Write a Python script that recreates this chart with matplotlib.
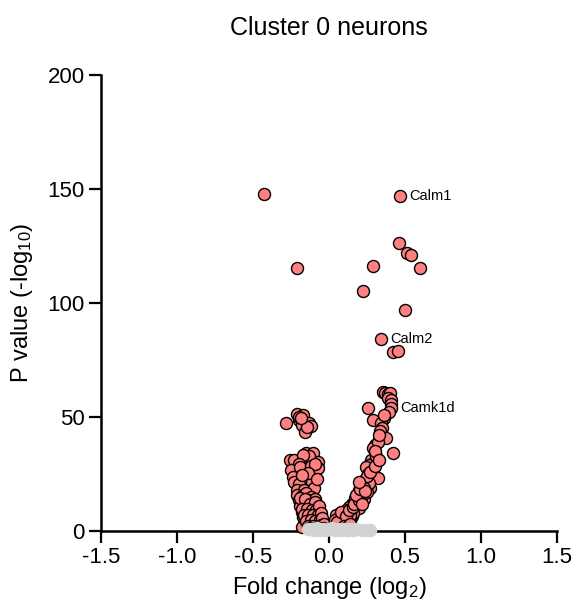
import matplotlib
matplotlib.use("Agg")
import matplotlib.pyplot as plt

plt.rcParams['font.family'] = ['Liberation Sans', 'DejaVu Sans']
plt.rcParams['mathtext.fontset'] = 'custom'
plt.rcParams['mathtext.rm'] = 'Liberation Sans'
plt.rcParams['mathtext.default'] = 'rm'

# significant genes: fold change (log2) and p value (-log10)
left_fc = [-0.426, -0.208, -0.283,
           -0.21, -0.17, -0.195, -0.13, -0.175, -0.12, -0.16, -0.145, -0.2, -0.185,
           -0.257, -0.228, -0.15, -0.107, -0.074, -0.13, -0.17, -0.2, -0.25, -0.19,
           -0.12, -0.07, -0.09, -0.24, -0.23, -0.16, -0.11, -0.2, -0.14, -0.21,
           -0.165, -0.1, -0.08, -0.18,
           -0.21, -0.18, -0.15, -0.12, -0.2, -0.17, -0.14, -0.11, -0.09, -0.19,
           -0.16, -0.13, -0.1, -0.08, -0.18, -0.15, -0.12, -0.09, -0.07, -0.17,
           -0.14, -0.11, -0.08, -0.06, -0.16, -0.13, -0.1, -0.07, -0.05, -0.04,
           -0.18, -0.12, -0.09,
           -0.19, -0.155, -0.125, -0.095, -0.175, -0.145, -0.115, -0.085, -0.065,
           -0.165, -0.135, -0.105, -0.075, -0.055, -0.15, -0.12, -0.09, -0.06,
           -0.045, -0.14, -0.105, -0.075, -0.05, -0.035, -0.13, -0.1, -0.065,
           -0.04, -0.03]
left_p = [147.7, 115.4, 47.2,
          51.3, 50.9, 48.7, 47.2, 46.5, 46.0, 43.6, 45.5, 50.0, 49.5,
          31.1, 31.1, 34.1, 34.1, 30.4, 32.8, 33.5, 29.5, 26.8, 28.0,
          28.5, 27.5, 29.5, 23.5, 21.6, 22.4, 21.6, 20.5, 25.5, 18.0,
          18.0, 19.0, 23.0, 24.5,
          16.0, 15.5, 16.5, 15.0, 13.5, 13.0, 13.5, 12.5, 14.0, 11.0,
          10.5, 11.0, 10.0, 11.5, 8.5, 8.0, 8.5, 7.5, 9.0, 6.0,
          5.5, 6.0, 5.0, 6.5, 3.5, 3.0, 3.5, 2.5, 4.0, 2.0,
          1.9, 1.5, 1.2,
          14.5, 14.0, 12.0, 12.8, 9.5, 9.8, 9.2, 9.0, 10.8,
          7.0, 7.2, 7.0, 6.8, 7.8, 4.5, 4.8, 4.2, 4.6,
          5.5, 2.2, 2.0, 1.8, 2.6, 3.0, 1.3, 1.0, 1.1,
          1.5, 1.0]

right_fc = [0.467, 0.463, 0.511, 0.539, 0.599, 0.289, 0.224, 0.498, 0.344, 0.419, 0.452,
            0.357, 0.37, 0.385, 0.4, 0.39, 0.405, 0.41, 0.259, 0.41, 0.395, 0.362,
            0.287, 0.342, 0.35, 0.335, 0.375, 0.3, 0.29, 0.32, 0.419, 0.276, 0.3,
            0.265, 0.245, 0.287, 0.255, 0.28, 0.225, 0.32, 0.24, 0.2, 0.22, 0.19,
            0.27, 0.15, 0.18, 0.13, 0.17, 0.11, 0.145, 0.09, 0.12, 0.046, 0.07,
            0.1, 0.05, 0.08, 0.12, 0.03, 0.06, 0.09, 0.15, 0.2, 0.23, 0.25, 0.16,
            0.14, 0.26, 0.23, 0.21, 0.185, 0.17, 0.25, 0.27, 0.31, 0.33, 0.36,
            0.04, 0.065, 0.085, 0.105, 0.125, 0.045, 0.075, 0.095, 0.115, 0.135,
            0.055, 0.08, 0.11, 0.13, 0.155, 0.1, 0.125, 0.14, 0.165, 0.195,
            0.175, 0.205, 0.215, 0.235, 0.195, 0.3, 0.305, 0.33]
right_p = [146.8, 126.3, 121.8, 120.9, 115.5, 116.4, 105.3, 96.9, 84.1, 78.5, 78.8,
           61.0, 60.5, 60.0, 60.5, 58.5, 57.5, 55.8, 53.8, 54.0, 52.3, 49.6,
           48.7, 47.2, 45.0, 44.0, 40.7, 37.7, 36.3, 39.0, 34.3, 31.1, 30.5,
           28.9, 28.2, 26.8, 25.0, 23.5, 22.0, 23.1, 20.0, 18.0, 16.5, 15.8,
           19.0, 12.0, 13.0, 10.5, 11.0, 9.0, 9.5, 7.5, 7.0, 7.0, 6.5,
           5.5, 4.5, 4.0, 3.5, 2.5, 2.0, 1.8, 6.5, 10.0, 14.0, 17.0, 8.0,
           4.5, 21.0, 19.0, 15.0, 12.5, 14.5, 24.0, 26.0, 33.0, 42.0, 51.0,
           5.0, 3.0, 5.5, 3.2, 5.8, 1.2, 2.6, 4.8, 8.0, 7.0,
           3.8, 8.2, 6.5, 9.0, 10.5, 2.2, 2.0, 3.0, 12.0, 13.5,
           16.0, 18.5, 12.0, 17.5, 21.5, 35.0, 28.5, 31.0]

# non-significant genes
grey_fc = [-0.14, -0.12, -0.1, -0.08, -0.06, -0.04, -0.02, 0.0, 0.02, 0.04,
           0.06, 0.08, 0.1, 0.12, 0.14, 0.16, 0.18, 0.22, 0.25, 0.27]
grey_p = [0.8, 1.0, 0.6, 1.2, 0.5, 0.9, 0.4, 0.7, 1.1, 0.5,
          0.9, 0.6, 1.0, 0.4, 0.8, 0.5, 0.7, 0.3, 0.6, 0.4]

labels = ["Calm1", "Calm2", "Camk1d"]
label_fc = [0.467, 0.344, 0.41]
label_p = [146.8, 84.1, 54.0]

fig = plt.figure(figsize=(5.76, 6.09), dpi=100)
ax = fig.add_axes([0.1753, 0.1281, 0.7917, 0.7488])

ax.scatter(left_fc + right_fc, left_p + right_p, s=75, c='#FF8080',
           edgecolors='black', linewidths=1.0, clip_on=False, zorder=3)
ax.scatter(grey_fc, grey_p, s=75, c='#D3D3D3', edgecolors='#D3D3D3',
           linewidths=1.0, clip_on=False, zorder=4)

for name, x, y in zip(labels, label_fc, label_p):
    ax.annotate(name, (x, y), xytext=(6.5, 0), textcoords='offset points',
                ha='left', va='center', fontsize=10.5)

ax.set_xlim(-1.5, 1.5)
ax.set_ylim(0, 200)
ax.set_xticks([-1.5, -1.0, -0.5, 0.0, 0.5, 1.0, 1.5])
ax.set_yticks([0, 50, 100, 150, 200])
ax.set_xticklabels(['-1.5', '-1.0', '-0.5', '0.0', '0.5', '1.0', '1.5'])

for side in ['top', 'right']:
    ax.spines[side].set_visible(False)
for side in ['left', 'bottom']:
    ax.spines[side].set_linewidth(1.8)
ax.tick_params(length=8.6, width=1.6, labelsize=16, pad=3)

ax.set_xlabel('Fold change (log$_2$)', fontsize=17, labelpad=5)
ax.set_ylabel('P value (-log$_{10}$)', fontsize=17, labelpad=9)
ax.set_title('Cluster 0 neurons', fontsize=18, pad=29)

fig.savefig('out.png', dpi=100)
